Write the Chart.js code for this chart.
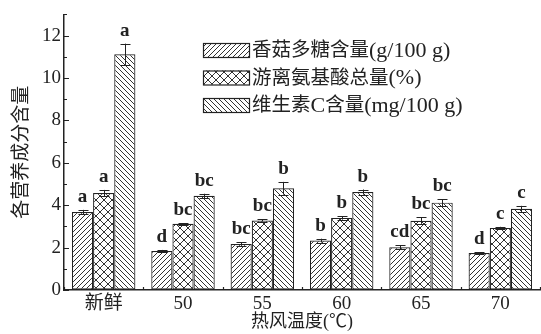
<!DOCTYPE html>
<html>
<head>
<meta charset="utf-8">
<script src="https://cdn.jsdelivr.net/npm/chart.js@4.4.1/dist/chart.umd.min.js"></script>
<style>
  html, body { margin: 0; padding: 0; background: #fff; }
  #wrap { width: 541px; height: 334px; }
</style>
</head>
<body>
<div id="wrap"><canvas id="chart" width="541" height="334"></canvas></div>
<script>
// 热风温度处理
const categories = ['新鲜', '50', '55', '60', '65', '70'];
const seriesNames = ['香菇多糖含量(g/100 g)', '游离氨基酸总量(%)', '维生素C含量(mg/100 g)'];

// 各指标均值
const polysaccharide = [3.68, 1.84, 2.17, 2.33, 2.02, 1.74];
const aminoAcid = [4.57, 3.12, 3.28, 3.40, 3.27, 2.93];
const vitaminC = [11.12, 4.44, 4.80, 4.62, 4.12, 3.83];

// 标准差
const polysaccharideErr = [0.10, 0.05, 0.09, 0.09, 0.10, 0.03];
const aminoAcidErr = [0.15, 0.04, 0.05, 0.08, 0.15, 0.05];
const vitaminCErr = [0.50, 0.10, 0.30, 0.12, 0.17, 0.14];

// 显著性字母
const polysaccharideSig = ['a', 'd', 'bc', 'b', 'cd', 'd'];
const aminoAcidSig = ['a', 'bc', 'bc', 'b', 'bc', 'c'];
const vitaminCSig = ['a', 'bc', 'b', 'b', 'bc', 'c'];

const yTicks = [0, 2, 4, 6, 8, 10, 12];

const serif = '"Liberation Serif", "Noto Sans CJK SC", serif';
const ink = '#222';

// 填充图案
function makePattern(kind) {
    const size = kind === 'cross' ? 8 : 5;
    const c = document.createElement('canvas');
    c.width = size; c.height = size;
    const g = c.getContext('2d');
    g.fillStyle = '#fff';
    g.fillRect(0, 0, size, size);
    g.strokeStyle = '#333';
    g.lineWidth = 1;
    g.beginPath();
    if (kind === 'fwd' || kind === 'cross') {
        g.moveTo(-1, size + 1); g.lineTo(size + 1, -1);
        g.moveTo(-1, 1); g.lineTo(1, -1);
        g.moveTo(size - 1, size + 1); g.lineTo(size + 1, size - 1);
    }
    if (kind === 'back' || kind === 'cross') {
        g.moveTo(-1, -1); g.lineTo(size + 1, size + 1);
        g.moveTo(size - 1, -1); g.lineTo(size + 1, 1);
        g.moveTo(-1, size - 1); g.lineTo(1, size + 1);
    }
    g.stroke();
    return g.createPattern(c, 'repeat');
}

const fills = [makePattern('fwd'), makePattern('cross'), makePattern('back')];
const errors = [polysaccharideErr, aminoAcidErr, vitaminCErr];
const letters = [polysaccharideSig, aminoAcidSig, vitaminCSig];

// 中文用宋体大小，西文略大
function drawMixed(ctx, text, x, y) {
    text.split(/([\u4e00-\u9fff]+)/).forEach(part => {
        if (!part) return;
        const cjk = /[\u4e00-\u9fff]/.test(part);
        ctx.font = (cjk ? '19.5px ' : '22px ') + serif;
        ctx.fillText(part, x, y);
        x += ctx.measureText(part).width;
    });
}

// 误差线、显著性字母、坐标刻度和图例
const decorations = {
    id: 'decorations',
    afterDatasetsDraw(chart) {
        const ctx = chart.ctx;
        const y = chart.scales.y;
        const x = chart.scales.x;
        const area = chart.chartArea;
        ctx.save();
        ctx.strokeStyle = ink;
        ctx.lineWidth = 1;

        chart.data.datasets.forEach((ds, di) => {
            const meta = chart.getDatasetMeta(di);
            meta.data.forEach((bar, i) => {
                const v = ds.data[i];
                const e = errors[di][i];
                const top = y.getPixelForValue(v + e);
                const bot = y.getPixelForValue(v - e);
                const cx = Math.round(bar.x) + 0.5;
                ctx.beginPath();
                ctx.moveTo(cx, top); ctx.lineTo(cx, bot);
                ctx.moveTo(cx - 5, Math.round(top) + 0.5); ctx.lineTo(cx + 5, Math.round(top) + 0.5);
                ctx.moveTo(cx - 5, Math.round(bot) + 0.5); ctx.lineTo(cx + 5, Math.round(bot) + 0.5);
                ctx.stroke();

                ctx.fillStyle = ink;
                ctx.font = 'bold 19px ' + serif;
                ctx.textAlign = 'center';
                ctx.textBaseline = 'alphabetic';
                ctx.fillText(letters[di][i], bar.x, top - 8);
            });
        });

        // 向内的刻度线
        ctx.lineWidth = 1.2;
        ctx.beginPath();
        for (let v = 0; v <= 13; v++) {
            const py = Math.round(y.getPixelForValue(v)) + 0.5;
            const len = v % 2 === 0 ? 5 : 3;
            ctx.moveTo(area.left, py); ctx.lineTo(area.left + len, py);
        }
        for (let i = 0; i <= categories.length; i++) {
            const px = Math.round(area.left + (area.right - area.left) * i / categories.length) + 0.5;
            ctx.moveTo(px, area.bottom); ctx.lineTo(px, area.bottom - 3);
        }
        categories.forEach((c, i) => {
            const px = Math.round(x.getPixelForValue(i)) + 0.5;
            ctx.moveTo(px, area.bottom); ctx.lineTo(px, area.bottom - 2);
        });
        ctx.stroke();

        // 图例
        const lx = 203, ly = 43, bw = 46, bh = 14, gap = 27.5;
        seriesNames.forEach((name, i) => {
            const by = ly + i * gap;
            ctx.fillStyle = fills[i];
            ctx.fillRect(lx, by, bw, bh);
            ctx.strokeStyle = ink;
            ctx.lineWidth = 1.2;
            ctx.strokeRect(lx + 0.5, by + 0.5, bw, bh);
            ctx.fillStyle = ink;
            ctx.textAlign = 'left';
            ctx.textBaseline = 'middle';
            drawMixed(ctx, name, lx + bw + 3, by + bh / 2 + 1);
        });
        ctx.restore();
    }
};

const ctx = document.getElementById('chart').getContext('2d');
new Chart(ctx, {
    type: 'bar',
    data: {
        labels: categories,
        datasets: [polysaccharide, aminoAcid, vitaminC].map((d, i) => ({
            label: seriesNames[i],
            data: d,
            backgroundColor: fills[i],
            borderColor: ink,
            borderWidth: 1.2,
            borderSkipped: false,
            barPercentage: 1,
            categoryPercentage: 0.8
        }))
    },
    options: {
        responsive: false,
        animation: false,
        events: [],
        layout: { padding: { top: 11, right: 1, left: 0, bottom: 0 } },
        plugins: {
            legend: { display: false },
            tooltip: { enabled: false }
        },
        scales: {
            x: {
                grid: { display: true, drawOnChartArea: false, drawTicks: false },
                border: { display: true, color: ink, width: 1.5 },
                ticks: { color: ink, padding: 3, font: { family: serif, size: 19 } },
                title: {
                    display: true,
                    text: '热风温度(℃)',
                    color: ink,
                    padding: { top: 0, bottom: 1 },
                    font: { family: serif, size: 18 }
                },
                afterFit(scale) { scale.height = 44; }
            },
            y: {
                min: 0,
                max: 13,
                grid: { display: true, drawOnChartArea: false, drawTicks: false },
                border: { display: true, color: ink, width: 1.5 },
                ticks: { color: ink, padding: 3, font: { family: serif, size: 19 } },
                afterBuildTicks(scale) {
                    scale.ticks = yTicks.map(v => ({ value: v }));
                },
                title: {
                    display: true,
                    text: '各营养成分含量',
                    color: ink,
                    padding: { top: 11, bottom: 0 },
                    font: { family: serif, size: 19 }
                },
                afterFit(scale) { scale.width = 64; }
            }
        }
    },
    plugins: [decorations]
});
</script>
</body>
</html>
